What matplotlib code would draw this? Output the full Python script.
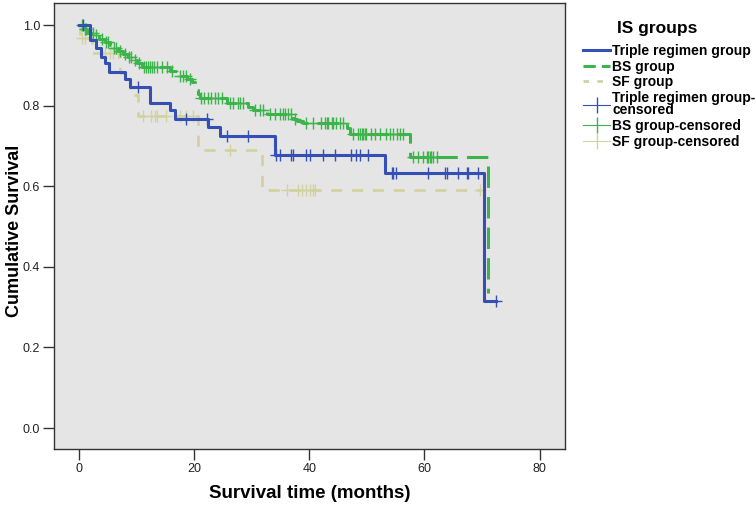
import numpy as np
import matplotlib.pyplot as plt
from matplotlib.lines import Line2D

plt.rcParams["font.family"] = ["Liberation Sans", "DejaVu Sans"]

# Kaplan-Meier steps: (event time, survival after the drop)
tri_t = [1.9, 3.0, 3.9, 4.6, 5.2, 8.0, 8.9, 12.4, 15.8, 16.7, 22.4, 24.5, 34.0, 53.1, 70.3]
tri_s = [0.963, 0.944, 0.922, 0.905, 0.884, 0.866, 0.847, 0.807, 0.789, 0.768,
         0.748, 0.725, 0.677, 0.632, 0.316]
tri_end = 72.5
tri_cens = [0.8, 10.2, 18.7, 22.2, 25.7, 29.4, 34.3, 34.9, 36.9, 37.2, 39.5, 40.1,
            42.4, 44.4, 47.3, 48.2, 48.8, 50.2, 54.3, 54.6, 55.1, 60.6, 63.5, 63.9,
            65.9, 67.4, 67.6, 69.3, 72.5]

bs_t = [0.7, 1.5, 2.8, 3.6, 4.5, 5.4, 5.9, 6.8, 7.6, 8.5, 9.4, 10.1, 10.9, 15.8,
        17.0, 18.8, 19.6, 20.2, 20.7, 21.0, 25.7, 29.3, 30.2, 32.6, 37.2, 37.8,
        38.9, 46.5, 47.0, 57.5, 71.1]
bs_s = [0.99, 0.98, 0.975, 0.965, 0.958, 0.950, 0.943, 0.935, 0.928, 0.921, 0.913,
        0.905, 0.895, 0.886, 0.874, 0.866, 0.859, 0.840, 0.830, 0.818, 0.806, 0.798,
        0.789, 0.779, 0.768, 0.763, 0.756, 0.744, 0.731, 0.673, 0.336]
bs_end = 71.1
bs_cens = [0.5, 1.0, 1.3, 2.2, 2.5, 3.0, 4.0, 4.8, 5.0, 6.2, 6.5, 7.2, 8.0, 8.8, 9.0,
           9.8, 10.4, 11.3, 11.7, 12.0, 12.4, 12.7, 13.0, 13.5, 14.5, 15.3, 16.2,
           17.5, 18.1, 18.7, 19.3, 21.3, 21.8, 22.4, 23.0, 23.6, 24.1, 24.8, 26.2,
           26.8, 27.6, 28.0, 28.5, 30.6, 31.4, 32.0, 33.2, 34.0, 34.9, 35.4, 35.8,
           36.3, 36.9, 37.5, 39.5, 40.6, 42.1, 42.7, 43.0, 43.3, 43.9, 44.1, 44.7,
           45.3, 45.9, 47.6, 48.5, 48.8, 49.1, 49.3, 49.7, 49.9, 50.8, 51.4, 52.3,
           53.4, 54.0, 54.6, 55.2, 55.7, 56.3, 58.0, 58.9, 59.8, 60.4, 60.6, 60.9,
           61.2, 61.5, 62.1]

sf_t = [0.2, 2.3, 7.1, 8.9, 10.3, 20.7, 31.8]
sf_s = [0.967, 0.930, 0.880, 0.826, 0.774, 0.690, 0.591]
sf_end = 69.8
sf_cens = [0.5, 1.0, 4.5, 5.4, 6.0, 6.8, 11.2, 12.6, 13.2, 13.5, 15.2, 17.5, 18.7,
           19.8, 26.2, 36.1, 38.1, 38.7, 39.5, 40.1, 40.7, 41.0, 69.6]

labels = ["Triple regimen group", "BS group", "SF group",
          "Triple regimen group-\ncensored", "BS group-censored", "SF group-censored"]
colors = ["#3550b4", "#3cb44b", "#d2d2a0"]
styles = ["-", (0, (7, 3)), (0, (4, 3.5))]


def km_curve(times, surv, end):
    x = np.concatenate([[0.0], times, [end]])
    y = np.concatenate([[1.0], surv, [surv[-1]]])
    return x, y


def surv_at(times, surv, t):
    idx = np.searchsorted(times, t, side="right")
    s = np.concatenate([[1.0], surv])
    return s[idx]


fig = plt.figure(figsize=(7.56, 5.07), dpi=100)
ax = fig.add_axes([0.0714, 0.1144, 0.676, 0.8797])
ax.set_facecolor("#e5e5e5")

groups = [(tri_t, tri_s, tri_end, tri_cens),
          (bs_t, bs_s, bs_end, bs_cens),
          (sf_t, sf_s, sf_end, sf_cens)]

# draw in reverse so the blue curve sits on top
for i in [2, 1, 0]:
    t, s, end, cens = groups[i]
    x, y = km_curve(t, s, end)
    lw = 2.2 if i < 2 else 2.0
    ax.step(x, y, where="post", color=colors[i], lw=lw, linestyle=styles[i], zorder=3 + (2 - i))
    ct = np.array(cens)
    cy = surv_at(np.array(t), np.array(s), ct)
    ax.plot(ct, cy, linestyle="none", marker="+", markersize=9, mew=1.0,
            color=colors[i], zorder=3 + (2 - i))

ax.set_xlim(-4.3, 84.4)
ax.set_ylim(-0.052, 1.055)
ax.set_xticks([0, 20, 40, 60, 80])
ax.set_yticks([0.0, 0.2, 0.4, 0.6, 0.8, 1.0])
ax.set_yticklabels(["0.0", "0.2", "0.4", "0.6", "0.8", "1.0"])
ax.tick_params(direction="out", length=8, width=1, labelsize=9, color="#333333",
               labelcolor="#222222", pad=2)
for sp in ax.spines.values():
    sp.set_color("#333333")
    sp.set_linewidth(1.0)

ax.set_xlabel("Survival time (months)", fontsize=13.5, fontweight="bold")
ax.xaxis.set_label_coords(0.5, -0.08)
ax.set_ylabel("Cumulative Survival", fontsize=13, fontweight="bold")
ax.yaxis.set_label_coords(-0.061, 0.49)

fig.text(657 / 756, 1 - 28 / 507, "IS groups", ha="center", va="center",
         fontsize=12.5, fontweight="bold")

handles = [
    Line2D([], [], color=colors[0], lw=2.2, linestyle="-"),
    Line2D([], [], color=colors[1], lw=2.2, linestyle=(0, (4, 2))),
    Line2D([], [], color=colors[2], lw=2.0, linestyle=(0, (2, 3))),
    Line2D([], [], color=colors[0], lw=0.8, marker="|", markersize=12, mew=1.0),
    Line2D([], [], color=colors[1], lw=0.8, marker="|", markersize=12, mew=1.0),
    Line2D([], [], color=colors[2], lw=0.8, marker="|", markersize=12, mew=1.0),
]
leg = fig.legend(handles, labels, loc="upper left", bbox_to_anchor=(583 / 756, 1 - 44 / 507),
                 frameon=False, handlelength=1.95, borderpad=0, borderaxespad=0,
                 handletextpad=0.15, labelspacing=0.12,
                 prop={"size": 10, "weight": "bold"})
for txt in leg.get_texts():
    txt.set_linespacing(0.85)

fig.savefig("out.png", dpi=100, facecolor="white")
